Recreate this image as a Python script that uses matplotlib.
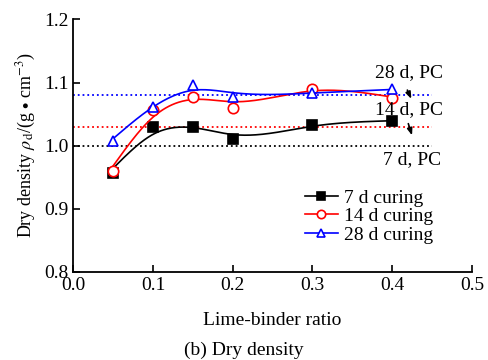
import numpy as np
import matplotlib.pyplot as plt

plt.rcParams['font.family'] = ['Liberation Serif', 'DejaVu Serif']
plt.rcParams['mathtext.fontset'] = 'stix'

# data
ratio = [0.05, 0.1, 0.15, 0.2, 0.3, 0.4]
d7 = [0.957, 1.029, 1.030, 1.010, 1.033, 1.039]
d14 = [0.960, 1.056, 1.077, 1.060, 1.090, 1.076]
d28 = [1.008, 1.062, 1.096, 1.077, 1.084, 1.089]
pc = {'7 d, PC': 1.00, '14 d, PC': 1.03, '28 d, PC': 1.08}


def smooth(x, y, lam=0.015, step=0.001):
    # smoothing spline (whittaker style) on a fine grid, x scaled to 0.1 units
    x = np.asarray(x, float)
    y = np.asarray(y, float)
    grid = np.arange(x[0], x[-1] + step / 2, step)
    n = len(grid)
    idx = np.round((x - x[0]) / step).astype(int)
    w = np.zeros(n)
    b = np.zeros(n)
    w[idx] = 1.0
    b[idx] = y
    h = step / 0.1
    D = np.diff(np.eye(n), 2, axis=0)
    A = np.diag(w) + lam / h ** 3 * D.T @ D
    z = np.linalg.solve(A, b)
    return grid, z


fig = plt.figure(figsize=(4.88, 3.6), dpi=100)
ax = fig.add_axes([0.150, 0.245, 0.817, 0.701])

ax.hlines(pc['7 d, PC'], 0, 0.45, colors='black', linestyles=':', lw=1.3)
ax.hlines(pc['14 d, PC'], 0, 0.45, colors='red', linestyles=':', lw=1.3)
ax.hlines(pc['28 d, PC'], 0, 0.45, colors='blue', linestyles=':', lw=1.3)

series = [(d7, 'black', 's', '7 d curing', 'black'),
          (d14, 'red', 'o', '14 d curing', 'white'),
          (d28, 'blue', '^', '28 d curing', 'white')]
for vals, c, m, lab, fc in series:
    sx, sy = smooth(ratio, vals)
    ax.plot(sx, sy, '-', color=c, lw=1.2)
    ax.plot(ratio, vals, linestyle='none', marker=m, color=c, mfc=fc,
            mec=c, ms=7.5, mew=1.2)
    ax.plot([], [], '-', color=c, marker=m, mfc=fc, mec=c, ms=6, mew=1.2,
            lw=1.2, label=lab)

fs = 14
ax.text(0.4215, 1.115, '28 d, PC', ha='center', va='center', fontsize=fs)
ax.text(0.4215, 1.057, '14 d, PC', ha='center', va='center', fontsize=fs)
ax.text(0.425, 0.978, '7 d, PC', ha='center', va='center', fontsize=fs)
arrow = dict(arrowstyle='-|>,head_length=0.4,head_width=0.15', color='black', lw=1.2)
ax.annotate('', xy=(0.4255, 1.070), xytext=(0.4176, 1.092), arrowprops=arrow)
ax.annotate('', xy=(0.426, 1.012), xytext=(0.4192, 1.039), arrowprops=arrow)

ax.set_xlim(0, 0.5)
ax.set_ylim(0.8, 1.2)
ax.set_xticks(np.arange(0, 0.51, 0.1))
ax.set_yticks(np.arange(0.8, 1.21, 0.1))
ax.xaxis.set_major_formatter(plt.FormatStrFormatter('%.1f'))
ax.yaxis.set_major_formatter(plt.FormatStrFormatter('%.1f'))
ax.tick_params(direction='in', length=5, width=1.2, labelsize=fs)
ax.spines['top'].set_visible(False)
ax.spines['right'].set_visible(False)
ax.spines['left'].set_linewidth(1.3)
ax.spines['bottom'].set_linewidth(1.3)

ax.set_xlabel('Lime-binder ratio', fontsize=fs, labelpad=13)
ax.set_ylabel(r'Dry density $\rho_{\mathrm{d}}$/(g $\bullet$ cm$^{-3}$)', fontsize=13, labelpad=4)

ax.legend(loc='upper left', bbox_to_anchor=(0.547, 0.382), frameon=False,
          fontsize=fs, handlelength=1.7, handletextpad=0.3, labelspacing=0.05,
          borderpad=0.2)

fig.text(0.5, 0.028, '(b) Dry density', ha='center', va='center', fontsize=fs)

fig.savefig('out.png', dpi=100)
